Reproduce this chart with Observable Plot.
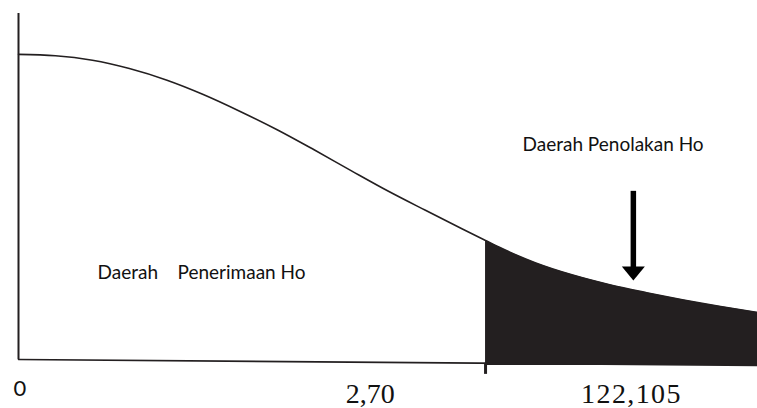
<!DOCTYPE html>
<html><head><meta charset="utf-8">
<script src="https://cdn.jsdelivr.net/npm/d3@7"></script>
<script src="https://cdn.jsdelivr.net/npm/@observablehq/plot@0.6"></script>
<style>body{margin:0;background:#fff} svg{display:block;background:#fff}</style>
</head><body><div id="chart"></div>
<script>
// density curve (schematic)
const curveX = [0, 0.5, 1, 1.5, 2, 2.5, 3, 3.5, 4, 4.5, 5, 5.5, 6, 6.32, 6.5, 7, 7.5, 8, 8.5, 9, 9.5, 10];
const curveY = [0.882, 0.878, 0.865, 0.841, 0.808, 0.766, 0.717, 0.664, 0.606, 0.546, 0.487, 0.432, 0.378, 0.344, 0.325, 0.279, 0.244, 0.216, 0.193, 0.172, 0.153, 0.136];
const criticalX = 6.32;
// baseline (slightly slanted in the original)
const axisX = [0, 10];
const axisY = [0, -0.017];
// tick labels
const sansTickLabels = ["0"];
const sansTickX = [0.02];
const serifTickLabels = ["2,70", "122,105"];
const serifTickX = [5.09, 8.295];
const serifTickAnchor = ["end", "middle"];
// region labels
const regionLabels = ["Daerah\u00a0\u00a0\u00a0\u00a0Penerimaan Ho", "Daerah Penolakan Ho"];
const regionX = [1.07, 6.82];
const regionY = [0.25, 0.62];
// arrow
const arrowX = 8.32;
const arrowTop = 0.486;
const arrowTip = 0.228;

const curve = curveX.map((x, i) => ({x, y: curveY[i]}));
const tail = curve.filter(d => d.x >= criticalX);
const axis = axisX.map((x, i) => ({x, y: axisY[i]}));
const ink = "#231f20";

const headDown = {
  draw(ctx, size) {
    const w = Math.sqrt(size);
    const h = w * 0.61;
    ctx.moveTo(-w / 2, -h);
    ctx.lineTo(w / 2, -h);
    ctx.lineTo(0, 0);
    ctx.closePath();
  }
};

const chart = Plot.plot({
  width: 757,
  height: 408,
  marginLeft: 18,
  marginRight: 0,
  marginTop: 13,
  marginBottom: 49,
  x: {domain: [0, 10], axis: null},
  y: {domain: [0, 1], axis: null},
  style: {background: "#fff"},
  marks: [
    Plot.areaY(tail, {x: "x", y1: axisY[1], y2: "y", fill: ink, curve: "monotone-x"}),
    Plot.line(curve, {x: "x", y: "y", stroke: ink, strokeWidth: 1.6, curve: "monotone-x"}),
    Plot.line(axis, {x: "x", y: "y", stroke: ink, strokeWidth: 1.6}),
    Plot.ruleX([0], {y1: 0, y2: 1, stroke: ink, strokeWidth: 2}),
    Plot.ruleX([criticalX], {y1: -0.011, y2: -0.043, stroke: ink, strokeWidth: 3}),
    Plot.ruleX([arrowX], {y1: arrowTop, y2: arrowTip + 0.03, stroke: "#000", strokeWidth: 5.5}),
    Plot.dot([arrowX], {x: d => d, y: arrowTip, symbol: headDown, r: 13, fill: "#000", stroke: null}),
    Plot.text(regionLabels, {x: (d, i) => regionX[i], y: (d, i) => regionY[i], text: d => d, textAnchor: "start", fontFamily: "Lato", fontSize: 19, fill: "#111"}),
    Plot.text(sansTickLabels, {x: (d, i) => sansTickX[i], y: -0.085, text: d => d, fontFamily: "Lato", fontSize: 22, fill: "#111"}),
    Plot.text([serifTickLabels[0]], {x: serifTickX[0], y: -0.1, text: d => d, textAnchor: serifTickAnchor[0], fontFamily: "Liberation Serif", fontSize: 28, fill: "#111"}),
    Plot.text([serifTickLabels[1]], {x: serifTickX[1], y: -0.1, text: d => d, textAnchor: serifTickAnchor[1], fontFamily: "Liberation Serif", fontSize: 28, fill: "#111", className: "wide"})
  ]
});
chart.querySelectorAll(".wide text").forEach(t => t.style.letterSpacing = "1.4px");
document.getElementById("chart").appendChild(chart);
</script>
</body></html>
